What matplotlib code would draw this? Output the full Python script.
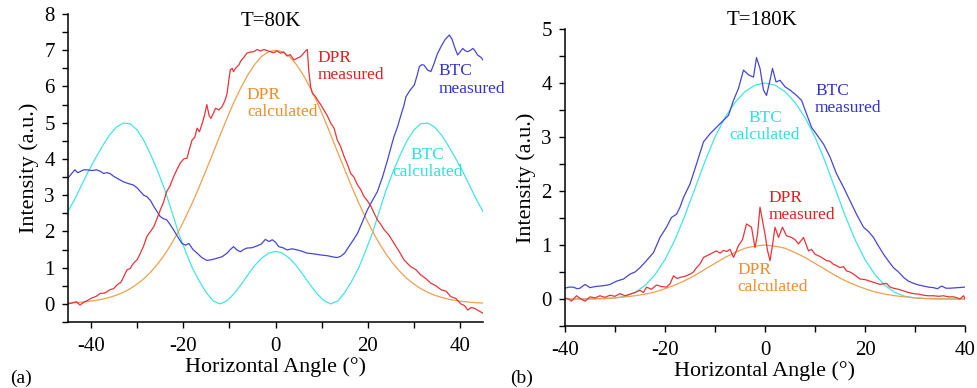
import matplotlib
matplotlib.use("Agg")
import matplotlib.pyplot as plt
from matplotlib.ticker import MultipleLocator

plt.rcParams['font.family'] = 'serif'
plt.rcParams['font.serif'] = ['Liberation Serif', 'DejaVu Serif']
plt.rcParams['axes.unicode_minus'] = False

# ---------- panel (a), T=80K ----------
a_calc_x = [-45, -43.5, -42, -40.5, -39, -37.5, -36, -34.5, -33, -31.5, -30, -28.5, -27, -25.5, -24, -22.5,
            -21, -19.5, -18, -16.5, -15, -13.5, -12, -10.5, -9, -7.5, -6, -4.5, -3, -1.5, 0,
            1.5, 3, 4.5, 6, 7.5, 9, 10.5, 12, 13.5, 15, 16.5, 18, 19.5, 21, 22.5,
            24, 25.5, 27, 28.5, 30, 31.5, 33, 34.5, 36, 37.5, 39, 40.5, 42, 43.5, 45]
a_dpr_calc = [0.023, 0.033, 0.048, 0.068, 0.095, 0.13, 0.18, 0.24, 0.32, 0.42, 0.55, 0.70, 0.89, 1.11, 1.37, 1.67,
              2.01, 2.39, 2.80, 3.24, 3.71, 4.18, 4.66, 5.13, 5.57, 5.97, 6.32, 6.61, 6.83, 6.96, 7.0,
              6.96, 6.83, 6.61, 6.32, 5.97, 5.57, 5.13, 4.66, 4.18, 3.71, 3.24, 2.80, 2.39, 2.01, 1.67,
              1.37, 1.11, 0.89, 0.70, 0.55, 0.42, 0.32, 0.24, 0.18, 0.13, 0.095, 0.068, 0.048, 0.033, 0.023]
a_btc_calc = [2.55, 2.9, 3.29, 3.68, 4.03, 4.36, 4.66, 4.88, 4.99, 4.97, 4.8, 4.5, 4.1, 3.65, 3.15, 2.55,
              1.95, 1.45, 0.98, 0.62, 0.31, 0.08, 0.0, 0.09, 0.28, 0.53, 0.80, 1.06, 1.26, 1.40, 1.45,
              1.40, 1.26, 1.06, 0.80, 0.53, 0.28, 0.09, 0.0, 0.08, 0.31, 0.62, 0.98, 1.45, 1.95, 2.55,
              3.15, 3.65, 4.1, 4.5, 4.8, 4.97, 4.99, 4.88, 4.66, 4.36, 4.03, 3.68, 3.29, 2.9, 2.55]

a_dpr_meas_x = [-45, -44, -43.2, -42.4, -41.5, -40.7, -39.9, -39, -38, -37, -35.9, -35.1, -34.4, -33.5, -32.2,
                -31.5, -30.8, -30, -29.3, -28.6, -27.9, -27.1, -26.4, -25.7, -25, -24.3, -23.6, -22.9, -22.1,
                -21.4, -20.7, -19.9, -19.2, -18.6, -18.1, -17.5, -17, -16.5, -16, -15.4, -14.9, -14.4, -14,
                -13.5, -13, -12.3, -11.6, -11, -10.5, -10.1, -9.8, -9.4, -9.1, -8.7, -8.3, -7.9, -7.6, -6.9,
                -6.2, -5.5, -4.7, -4, -3.3, -2.5, -1.8, -1.1, -0.4, 0.3, 1.1, 1.8, 2.5, 3.2, 4, 4.7, 5.4,
                6, 6.5, 6.9, 7.2, 7.6, 8, 8.5, 9.1, 9.8, 10.5, 11.2, 12, 12.7, 13.4, 14.1, 14.9, 15.6, 16.3,
                17, 17.8, 18.5, 19.2, 19.9, 20.7, 21.4, 22.1, 22.8, 23.6, 24.6, 25.7, 26.8, 27.9, 28.6, 29.3,
                30.4, 31.5, 32.6, 33.7, 34.8, 35.9, 37, 38, 39.1, 40.2, 41, 41.7, 42.4, 43.1, 44.2, 45]
a_dpr_meas = [0.0, 0.03, 0.06, -0.03, 0.05, 0.1, 0.16, 0.2, 0.29, 0.3, 0.39, 0.42, 0.52, 0.6, 0.94,
              0.98, 1.12, 1.22, 1.40, 1.6, 1.86, 2.0, 2.13, 2.35, 2.59, 2.8, 3.10, 3.25, 3.51,
              3.7, 3.88, 4.0, 4.02, 4.3, 4.52, 4.6, 4.85, 4.75, 4.94, 5.2, 5.5, 5.2, 5.12,
              5.25, 5.40, 5.35, 5.44, 5.6, 5.81, 6.2, 6.46, 6.5, 6.41, 6.5, 6.55, 6.6, 6.69, 6.8,
              6.92, 6.95, 6.96, 7.02, 6.98, 7.02, 6.99, 6.96, 6.93, 6.98, 6.92, 6.95, 6.84, 6.88, 6.73, 6.78, 6.82,
              6.9, 6.98, 7.02, 6.46, 6.0, 5.81, 5.75, 5.63, 5.5, 5.35, 5.2, 4.98, 4.85, 4.52, 4.35, 4.06, 3.85, 3.60,
              3.5, 3.28, 3.15, 2.96, 2.85, 2.69, 2.5, 2.32, 2.2, 2.04, 1.9, 1.67, 1.45, 1.21, 1.12, 1.03,
              0.95, 0.80, 0.7, 0.57, 0.5, 0.39, 0.35, 0.20, 0.15, 0.0, -0.05, -0.17, -0.1, -0.12, -0.2, -0.26]

a_btc_meas_x = [-45, -44.2, -43.5, -42.9, -42.4, -41.6, -40.9, -39.8, -38.8, -38, -37.3, -36.6, -35.9, -35.1,
                -34.4, -33.7, -33, -31.9, -30.8, -30, -29.3, -28.6, -27.9, -27.1, -26.4, -25.7, -25, -24.3,
                -23.6, -22.9, -22.1, -21.2, -20.3, -19.5, -18.8, -17.9, -17, -16, -14.9, -13.8, -12.7, -11.6,
                -10.5, -9.8, -9.1, -8.3, -7.6, -6.9, -6.2, -5.1, -4, -3.1, -2.2, -1.4, -0.7, 0, 0.7, 1.6, 2.5,
                3.6, 4.7, 5.8, 6.9, 8.3, 9.8, 11.2, 12.7, 13.4, 14.1, 15, 15.9, 16.8, 17.8, 18.8, 19.9, 21,
                22.1, 23.2, 24.3, 25, 25.7, 26.5, 27.2, 27.8, 28.3, 29.2, 30.1, 30.7, 31.2, 31.7, 32.2, 33,
                33.7, 34.4, 35.1, 35.9, 36.8, 37.7, 38.3, 38.8, 39.5, 40, 40.6, 41.2, 41.7, 42.3, 42.8, 43.3,
                43.8, 44.6, 45]
a_btc_meas = [3.47, 3.6, 3.70, 3.62, 3.65, 3.7, 3.70, 3.68, 3.70, 3.66, 3.60, 3.62, 3.60, 3.52,
              3.47, 3.42, 3.37, 3.32, 3.28, 3.2, 3.10, 3.0, 2.96, 2.85, 2.69, 2.55, 2.41, 2.35,
              2.32, 2.2, 2.04, 1.85, 1.67, 1.62, 1.67, 1.5, 1.40, 1.28, 1.20, 1.22, 1.26, 1.3,
              1.40, 1.5, 1.58, 1.48, 1.44, 1.5, 1.54, 1.55, 1.60, 1.65, 1.78, 1.72, 1.77, 1.7, 1.58, 1.55, 1.49,
              1.52, 1.49, 1.45, 1.40, 1.38, 1.35, 1.33, 1.29, 1.28, 1.31, 1.4, 1.58, 1.75, 1.95, 2.25, 2.59, 2.85,
              3.10, 3.5, 3.97, 4.3, 4.62, 4.9, 5.21, 5.45, 5.72, 5.9, 6.04, 6.3, 6.55, 6.6, 6.59, 6.45,
              6.41, 6.64, 6.9, 7.10, 7.3, 7.42, 7.3, 7.10, 6.87, 6.95, 7.05, 6.98, 6.96, 7.0, 7.05, 6.98,
              6.87, 6.8, 6.73]

# ---------- panel (b), T=180K ----------
b_calc_x = [-40, -38, -36, -34, -32, -30, -28, -26, -24, -22, -20, -18, -16, -14, -12, -10, -8, -6, -4, -2, 0,
            2, 4, 6, 8, 10, 12, 14, 16, 18, 20, 22, 24, 26, 28, 30, 32, 34, 36, 38, 40]
b_btc_calc = [0.0, 0.0, 0.0, 0.0, 0.01, 0.02, 0.05, 0.12, 0.25, 0.45, 0.73, 1.1, 1.55, 2.05, 2.55, 3.0, 3.36,
              3.64, 3.84, 3.96, 4.0, 3.96, 3.84, 3.64, 3.36, 3.0, 2.55, 2.05, 1.55, 1.1, 0.73, 0.45, 0.25,
              0.12, 0.05, 0.02, 0.01, 0.0, 0.0, 0.0, 0.0]
b_dpr_calc = [0.0, 0.0, 0.0, 0.005, 0.01, 0.02, 0.04, 0.06, 0.09, 0.13, 0.19, 0.26, 0.34, 0.44, 0.55, 0.66, 0.77,
              0.86, 0.94, 0.98, 1.0, 0.98, 0.94, 0.86, 0.77, 0.66, 0.55, 0.44, 0.34, 0.26, 0.19, 0.13, 0.09,
              0.06, 0.04, 0.02, 0.01, 0.005, 0.0, 0.0, 0.0]

b_btc_meas_x = [-40, -39.2, -38.3, -37.6, -37, -36, -35, -34, -33, -32, -31, -29.7, -28.3, -27, -26, -25, -23.7,
                -22.3, -21, -19.7, -18.7, -17.7, -17, -16.3, -15, -13.7, -12.3, -11, -9.7, -8.3, -7.3, -6.3,
                -5.3, -4.3, -3.3, -2.3, -1.7, -1, -0.3, 0.3, 1, 1.5, 2.2, 3, 4, 5, 6.3, 7.3, 8.3, 9.3, 10.7,
                11.7, 13, 14.3, 15.7, 17, 18.3, 19.7, 20.7, 21.7, 22.7, 23.7, 24.7, 25.7, 26.7, 27.7, 28.7,
                29.7, 30.7, 31.7, 32.7, 33.7, 34.5, 35.3, 36.2, 37, 38.5, 40]
b_btc_meas = [0.20, 0.22, 0.22, 0.19, 0.20, 0.27, 0.21, 0.23, 0.24, 0.25, 0.27, 0.33, 0.37, 0.46, 0.5, 0.58, 0.71,
              0.86, 1.14, 1.33, 1.51, 1.57, 1.7, 1.88, 2.13, 2.50, 2.91, 3.06, 3.18, 3.31, 3.40, 3.68,
              3.90, 4.24, 4.15, 4.11, 4.47, 4.27, 3.87, 3.77, 4.05, 4.27, 4.02, 4.05, 3.93, 3.87, 3.77, 3.68, 3.43, 3.18, 3.00,
              2.87, 2.63, 2.32, 2.07, 1.82, 1.57, 1.33, 1.25, 1.14, 0.98, 0.83, 0.7, 0.58, 0.5, 0.40, 0.33,
              0.29, 0.26, 0.24, 0.22, 0.21, 0.19, 0.24, 0.2, 0.20, 0.21, 0.22]
b_dpr_meas_x = [-40, -39.3, -38.7, -37.7, -36.8, -36, -35, -34, -33, -32, -31, -30, -29, -28, -27, -26, -25, -24.3,
                -23.7, -22.7, -21.7, -20.7, -19.7, -19, -18.3, -17.6, -17, -16, -15, -14.3, -13.7, -13, -12.3,
                -11, -9.7, -9, -8.3, -7.6, -7, -6.3, -5.3, -4.5, -3.7, -2.7, -2, -1.5, -1, -0.5, 0, 0.5, 1,
                1.5, 2, 2.7, 3.5, 4.3, 5.3, 6, 6.7, 7.7, 8.7, 9.3, 10, 10.7, 11.3, 12.3, 13, 13.7, 14.3, 15,
                15.7, 16.3, 17, 17.7, 18.3, 19, 20, 21, 22, 23, 24.3, 25, 25.7, 26.7, 27.7, 28.7, 29.7, 30.7,
                31.7, 32.7, 33.7, 34.7, 35.7, 36.7, 37.7, 38.5, 39, 39.7, 40]
b_dpr_meas = [0.02, 0.0, -0.04, 0.06, 0.0, -0.04, 0.04, 0.02, 0.06, 0.03, 0.07, 0.05, 0.10, 0.06, 0.09, 0.12, 0.16, 0.12,
              0.22, 0.18, 0.26, 0.23, 0.22, 0.28, 0.43, 0.38, 0.40, 0.42, 0.46, 0.5, 0.58, 0.65, 0.77,
              0.83, 0.89, 0.85, 0.90, 0.88, 0.92, 0.77, 0.99, 1.1, 1.39, 1.33, 0.95, 1.2, 1.70, 1.45, 1.20, 0.9, 0.71,
              1.0, 1.33, 1.14, 1.33, 1.17, 1.14, 1.1, 1.02, 1.14, 0.89, 0.92, 0.83, 0.8, 0.77, 0.71, 0.7, 0.64, 0.62, 0.58,
              0.6, 0.52, 0.5, 0.46, 0.42, 0.37, 0.36, 0.33, 0.3, 0.27, 0.29, 0.22, 0.20, 0.18, 0.15, 0.12, 0.10, 0.09,
              0.07, 0.06, 0.06, 0.05, 0.06, 0.04, 0.04, 0.02, 0.0, 0.06, 0.0]

c_dpr_meas = '#e8343a'
c_dpr_calc = '#f0a050'
c_btc_meas = '#4646d6'
c_btc_calc = '#44e4e4'
t_dpr_meas = '#e41e1e'
t_dpr_calc = '#f08c28'
t_btc_meas = '#3232d2'
t_btc_calc = '#2ee0e0'

fig = plt.figure(figsize=(9.77, 3.88), dpi=100)
ax_a = fig.add_axes([68 / 977, 1 - 322 / 388, 415 / 977, 308 / 388])
ax_b = fig.add_axes([565 / 977, 1 - 326 / 388, 400 / 977, 297 / 388])

lw = 0.9
ax_a.plot(a_calc_x, a_btc_calc, color=c_btc_calc, lw=lw)
ax_a.plot(a_calc_x, a_dpr_calc, color=c_dpr_calc, lw=lw)
ax_a.plot(a_btc_meas_x, a_btc_meas, color=c_btc_meas, lw=lw)
ax_a.plot(a_dpr_meas_x, a_dpr_meas, color=c_dpr_meas, lw=lw)

ax_b.plot(b_calc_x, b_btc_calc, color=c_btc_calc, lw=lw)
ax_b.plot(b_calc_x, b_dpr_calc, color=c_dpr_calc, lw=lw)
ax_b.plot(b_btc_meas_x, b_btc_meas, color=c_btc_meas, lw=lw)
ax_b.plot(b_dpr_meas_x, b_dpr_meas, color=c_dpr_meas, lw=lw)

ax_a.set_xlim(-45, 45)
ax_a.set_ylim(-0.5, 8)
ax_b.set_xlim(-40, 40)
ax_b.set_ylim(-0.5, 5)

for ax in (ax_a, ax_b):
    ax.spines['top'].set_visible(False)
    ax.spines['right'].set_visible(False)
    ax.spines['left'].set_linewidth(1.1)
    ax.spines['bottom'].set_linewidth(1.1)
    ax.xaxis.set_major_locator(MultipleLocator(20))
    ax.xaxis.set_minor_locator(MultipleLocator(10))
    ax.yaxis.set_major_locator(MultipleLocator(1))
    ax.yaxis.set_minor_locator(MultipleLocator(0.5))
    ax.tick_params(which='both', direction='out', length=4.5, width=1, labelsize=15)
    ax.tick_params(axis='x', pad=6)
    ax.tick_params(axis='y', pad=5)
    ax.set_xlabel('Horizontal Angle (°)', fontsize=15.8, labelpad=1)
    ax.set_ylabel('Intensity (a.u.)', fontsize=16, labelpad=4)

fs = 12.5
# annotations (a)
ax_a.text(-1, 7.67, 'T=80K', fontsize=15, ha='center', va='baseline')
ax_a.text(9.1, 6.55, 'DPR\nmeasured', color=t_dpr_meas, fontsize=fs, ha='left', va='center', linespacing=1.1)
ax_a.text(-6.2, 5.52, 'DPR\ncalculated', color=t_dpr_calc, fontsize=fs, ha='left', va='center', linespacing=1.1)
ax_a.text(35.4, 6.18, 'BTC\nmeasured', color=t_btc_meas, fontsize=fs, ha='left', va='center', linespacing=1.1,
          clip_on=False)
ax_a.text(33, 3.87, 'BTC\ncalculated', color=t_btc_calc, fontsize=fs, ha='center', va='center', linespacing=1.1)

# annotations (b)
ax_b.text(-0.6, 5.07, 'T=180K', fontsize=15, ha='center', va='baseline')
ax_b.text(10, 3.7, 'BTC\nmeasured', color=t_btc_meas, fontsize=fs, ha='left', va='center', linespacing=1.1)
ax_b.text(0, 3.2, 'BTC\ncalculated', color=t_btc_calc, fontsize=fs, ha='center', va='center', linespacing=1.1)
ax_b.text(0.7, 1.72, 'DPR\nmeasured', color=t_dpr_meas, fontsize=fs, ha='left', va='center', linespacing=1.1)
ax_b.text(-5.5, 0.38, 'DPR\ncalculated', color=t_dpr_calc, fontsize=fs, ha='left', va='center', linespacing=1.1)

fig.text(10 / 977, 1 - 383 / 388, '(a)', fontsize=14, ha='left', va='baseline')
fig.text(510 / 977, 1 - 383 / 388, '(b)', fontsize=14, ha='left', va='baseline')

fig.savefig('out.png', dpi=100)
